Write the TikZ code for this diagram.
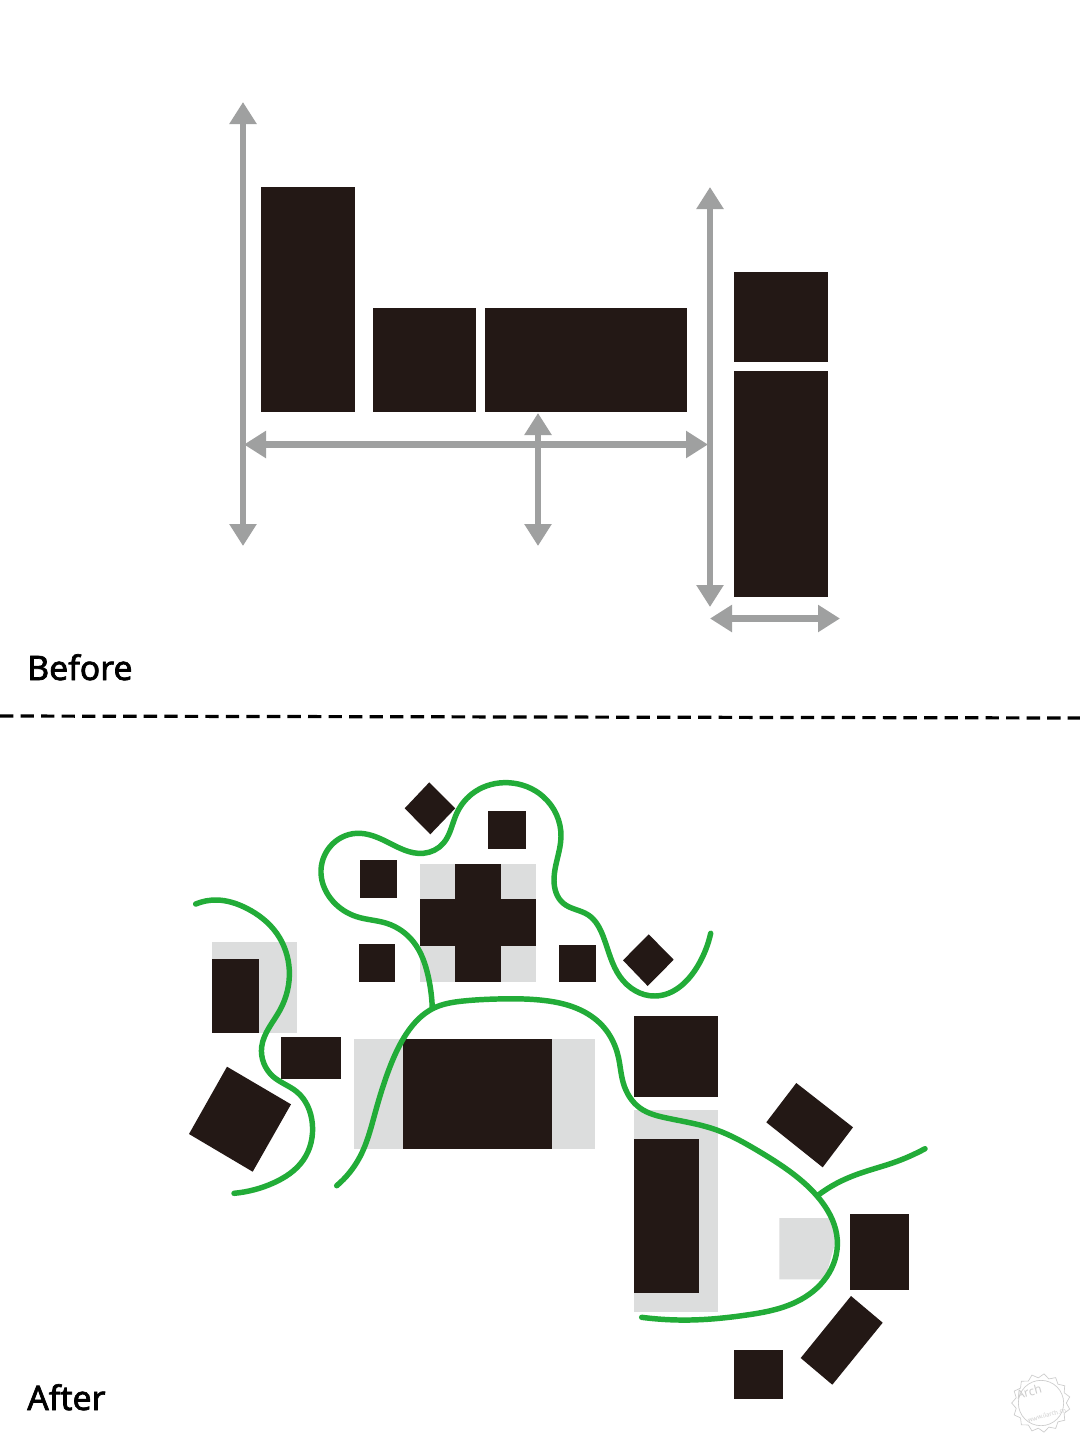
\documentclass[tikz,border=0pt]{standalone}
\usepackage{fontspec}
\setmainfont{Noto Sans}
\newfontfamily\capfont[FakeBold=2]{Noto Sans}
\usetikzlibrary{arrows.meta,hobby}
\definecolor{ink}{HTML}{231815}
\definecolor{pale}{HTML}{DCDDDD}
\definecolor{arrowgray}{HTML}{9FA0A0}
\definecolor{leaf}{HTML}{22AC38}
\definecolor{stamp}{HTML}{CCCCCC}
\tikzset{
  x=0.75pt,y=-0.75pt,
  block/.style={fill=ink,draw=none},
  ground/.style={fill=pale,draw=none},
  span/.style={draw=arrowgray,line width=5pt,{Triangle[length=16.5pt,width=19.5pt]}-{Triangle[length=16.5pt,width=19.5pt]}},
  path line/.style={draw=leaf,line width=4.1pt,line cap=round,line join=round,use Hobby shortcut},
  caption/.style={font=\fontsize{25.3}{28}\selectfont\capfont,text=black,anchor=base west,inner sep=0pt},
}
\begin{document}
\begin{tikzpicture}
\useasboundingbox (0,0) rectangle (1080,1440);
\fill[white] (0,0) rectangle (1080,1440);
% ---- before
\fill[block] (261,187) rectangle (354.5,411.5);
\fill[block] (372.5,307.5) rectangle (476,411.5);
\fill[block] (484.5,307.5) rectangle (686.5,411.5);
\fill[block] (734,272) rectangle (827.5,362);
\fill[block] (734,370.5) rectangle (827.5,597);
\coordinate (a1) at (243,102); \coordinate (a2) at (243,546);
\coordinate (b1) at (244,444.5); \coordinate (b2) at (708,444.5);
\coordinate (c1) at (538,413); \coordinate (c2) at (538,546);
\coordinate (d1) at (710,187); \coordinate (d2) at (710,607);
\coordinate (e1) at (710,618.5); \coordinate (e2) at (840,618.5);
\draw[span] (a1) -- (a2);
\draw[span] (b1) -- (b2);
\draw[span] (c1) -- (c2);
\draw[span] (d1) -- (d2);
\draw[span] (e1) -- (e2);
\node[caption] (before) at (27,680) {Before};
% ---- divider
\coordinate (dl) at (0,716); \coordinate (dr) at (1080,718);
\draw[black,line width=2.4pt,dash pattern=on 10pt off 5.4pt] (dl) -- (dr);
% ---- after: grounds
\fill[ground] (420,863.7) rectangle (536.3,982);
\fill[ground] (212.3,942) rectangle (297,1033);
\fill[ground] (354.3,1039.3) rectangle (595.3,1149.3);
\fill[ground] (634,1110) rectangle (718,1311.7);
\fill[ground] (779.3,1218) -- (830,1218) -- (836,1240) -- (825,1279.3) -- (779.3,1279.3) -- cycle;
% ---- after: blocks
\fill[block] (429.3,782.3) -- (455.3,808.3) -- (430.3,834.3) -- (404.7,808.3) -- cycle;
\fill[block] (488,811.3) rectangle (525.7,849);
\fill[block] (360,859.7) rectangle (397.3,898);
\fill[block] (359,944.3) rectangle (395,982.3);
\fill[block] (455,863.7) rectangle (501.3,982);
\fill[block] (420,899) rectangle (536.3,946.3);
\fill[block] (558.7,944.7) rectangle (596.3,982.3);
\fill[block] (648.7,934.3) -- (673.7,959.7) -- (647.7,986) -- (623,960.3) -- cycle;
\fill[block] (212.3,958.7) rectangle (259.3,1033);
\fill[block] (281.3,1037) rectangle (341.3,1079);
\fill[block] (227,1066.7) -- (291,1104.3) -- (252.7,1171.7) -- (189,1134) -- cycle;
\fill[block] (403.3,1039.3) rectangle (552,1149.3);
\fill[block] (634,1015.7) rectangle (717.7,1097);
\fill[block] (634,1139) rectangle (699,1293.3);
\fill[block] (796.3,1083) -- (853,1127.3) -- (822.7,1167.3) -- (766.3,1122.3) -- cycle;
\fill[block] (850,1213.7) rectangle (909,1290.3);
\fill[block] (851,1296) -- (882.7,1322.7) -- (832.3,1384.7) -- (800.7,1358) -- cycle;
\fill[block] (734,1349.7) rectangle (782.7,1398.7);
% ---- after: green paths
\draw[path line] (195.7,904) .. (216.7,900) .. (246.7,908.3) .. (276.7,933.3) .. (289.3,970) .. (280,1010) .. (261.7,1046.7) .. (273.3,1076.7) .. (296.7,1091.7) .. (312.3,1123.3) .. (303.3,1160) .. (273.3,1183) .. (234,1193.3);
\draw[path line] (432.3,1008.3) .. (428.3,976.7) .. (413.3,941.7) .. (386.7,923.3) .. (356.7,916.7) .. (333.3,901.7) .. (321,873.3) .. (330,846.7) .. (356.7,833.3) .. (386.7,841.7) .. (423.3,853.3) .. (443.3,843.3) .. (456.7,813.3) .. (475,791.7) .. (508.3,782.7) .. (543.3,796.7) .. (561,836.7) .. (554,880) .. (563.3,903.3) .. (588.3,915) .. (603.3,936.7) .. (620,976.7) .. (655,996) .. (698.3,965) .. (710.7,933.3);
\draw[path line] (336.7,1185.7) .. (360,1156.7) .. (375,1113.3) .. (390,1066.7) .. (406.7,1033.3) .. (433.3,1008.3) .. (463.3,1001) .. (496.7,999) .. (540,1000) .. (576.7,1008.3) .. (603.3,1026.7) .. (618.3,1056.7) .. (623.3,1083) .. (640,1108) .. (666.7,1118) .. (716.7,1130) .. (756.7,1150) .. (796.7,1176.7) .. (821.7,1201.7) .. (837.3,1240) .. (826.7,1276.7) .. (796.7,1301.7) .. (746.7,1315) .. (690,1320) .. (641.7,1317.3);
\draw[path line] (925,1148.7) .. (893.3,1162.7) .. (860,1173.3) .. (836.7,1183.3) .. (818.3,1195);
\node[caption] (after) at (27,1410) {After};
% ---- stamp
\begin{scope}[shift={(1041,1403)}]
\draw[stamp,line width=0.5pt] (0,0) circle [radius=17pt];
\foreach \a in {0,24,...,336} \draw[stamp,line width=0.5pt] (\a:19pt) -- (\a+12:22pt) -- (\a+24:19pt);
\node[text=stamp,font=\fontsize{9}{10}\selectfont,rotate=15,inner sep=0pt] (stampa) at (-12,-11) {Arch};
\node[text=stamp,font=\fontsize{4.5}{5}\selectfont,rotate=15,inner sep=0pt] (stampb) at (6,12) {www.ilarch.cn};
\end{scope}
\end{tikzpicture}
\end{document}
